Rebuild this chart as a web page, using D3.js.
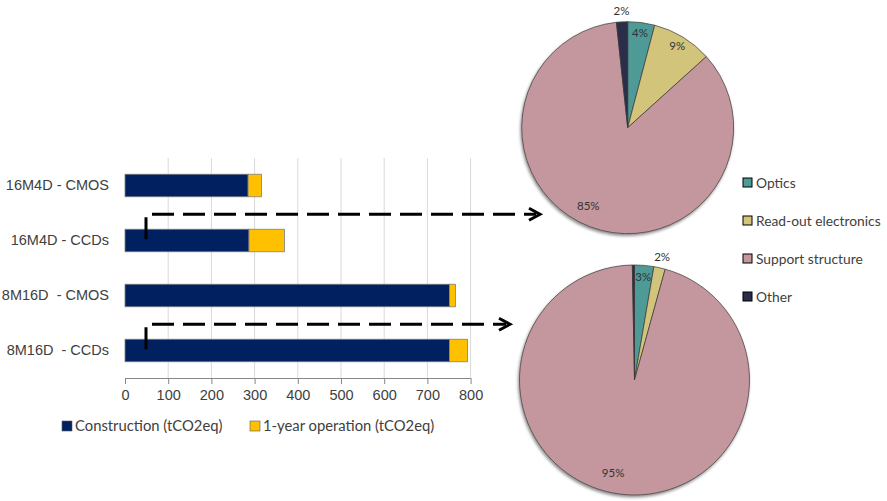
<!DOCTYPE html>
<html>
<head>
<meta charset="utf-8">
<script src="https://cdn.jsdelivr.net/npm/d3@7"></script>
<style>
  body { margin: 0; background: #fff; }
  svg { font-family: Lato, "Open Sans", sans-serif; }
</style>
</head>
<body>
<div id="chart"></div>
<script>
const categories = ["16M4D - CMOS", "16M4D - CCDs", "8M16D  - CMOS", "8M16D  - CCDs"];
const construction = [285, 287, 751, 751];
const operation = [31, 82, 14, 42];
const xTicks = [0, 100, 200, 300, 400, 500, 600, 700, 800];
const barSeries = ["Construction (tCO2eq)", "1-year operation (tCO2eq)"];

const components = ["Optics", "Read-out electronics", "Support structure", "Other"];
const pie16M4D = [4.1, 9.2, 85, 1.7];
const pie16M4DLabels = ["4%", "9%", "85%", "2%"];
const pie8M16D = [2.7, 1.6, 95.4, 0.3];
const pie8M16DLabels = ["3%", "2%", "95%", ""];

const width = 887;
const height = 501;

const barColors = ["#002060", "#ffc000"];
const pieColors = ["#4e9a96", "#d2c47a", "#c4969d", "#2b2d4a"];

const svg = d3.select("#chart")
  .append("svg")
  .attr("width", width)
  .attr("height", height);

const defs = svg.append("defs");
defs.append("filter")
  .attr("id", "shadow")
  .attr("x", "-10%").attr("y", "-10%")
  .attr("width", "120%").attr("height", "120%")
  .append("feDropShadow")
  .attr("dx", -1).attr("dy", 2)
  .attr("stdDeviation", 1.5)
  .attr("flood-color", "#000")
  .attr("flood-opacity", 0.45);

// ---- bar chart ----
const xScale = d3.scaleLinear()
  .domain([0, 800])
  .range([125, 470.6]);

const yScale = d3.scaleBand()
  .domain(categories)
  .range([158, 378])
  .paddingInner(0.59)
  .paddingOuter(0.295);

svg.append("g")
  .selectAll("line")
  .data(xTicks.slice(1))
  .enter()
  .append("line")
  .attr("x1", d => xScale(d))
  .attr("x2", d => xScale(d))
  .attr("y1", 158)
  .attr("y2", 378)
  .attr("stroke", "#d9d9d9")
  .attr("stroke-width", 1);

const rows = categories.map((c, i) => ({cat: c, a: construction[i], b: operation[i]}));

const barG = svg.append("g");
barG.selectAll("rect.cons")
  .data(rows)
  .enter()
  .append("rect")
  .attr("class", "cons")
  .attr("x", xScale(0))
  .attr("y", d => yScale(d.cat))
  .attr("width", d => xScale(d.a) - xScale(0))
  .attr("height", yScale.bandwidth())
  .attr("fill", barColors[0])
  .attr("stroke", "#808080")
  .attr("stroke-width", 0.8);

barG.selectAll("rect.op")
  .data(rows)
  .enter()
  .append("rect")
  .attr("class", "op")
  .attr("x", d => xScale(d.a))
  .attr("y", d => yScale(d.cat))
  .attr("width", d => xScale(d.a + d.b) - xScale(d.a))
  .attr("height", yScale.bandwidth())
  .attr("fill", barColors[1])
  .attr("stroke", "#808080")
  .attr("stroke-width", 0.8);

const xAxis = d3.axisBottom(xScale)
  .tickValues(xTicks)
  .tickSize(6)
  .tickPadding(6);
const xg = svg.append("g")
  .attr("transform", "translate(0, 378)")
  .call(xAxis);
xg.select(".domain").attr("stroke", "#868686").attr("d", `M${xScale(0)},0.5H${xScale(800)}`);
xg.selectAll(".tick line").attr("stroke", "#868686");
xg.selectAll(".tick text")
  .attr("fill", "#404040")
  .style("font-size", "14.5px");

const yAxis = d3.axisLeft(yScale).tickSize(0).tickPadding(16);
const yg = svg.append("g")
  .attr("transform", `translate(${xScale(0)}, 0)`)
  .call(yAxis);
yg.select(".domain").remove();
yg.selectAll(".tick text")
  .attr("fill", "#404040")
  .style("font-size", "14.5px")
  .style("white-space", "pre");

// bottom legend
const legendX = [62, 250];
const bl = svg.append("g");
barSeries.forEach((s, i) => {
  bl.append("rect")
    .attr("x", legendX[i]).attr("y", 421)
    .attr("width", 10).attr("height", 10)
    .attr("fill", barColors[i])
    .attr("stroke", "#595959").attr("stroke-width", 0.6);
  bl.append("text")
    .attr("x", legendX[i] + 13).attr("y", 431)
    .attr("fill", "#404040")
    .style("font-size", "14.8px")
    .text(s);
});

// ---- pies ----
function drawPie(values, labels, cx, cy, r) {
  const pie = d3.pie().sort(null).value(d => d);
  const arcs = pie(values);
  const arc = d3.arc().innerRadius(0).outerRadius(r);
  const g = svg.append("g").attr("transform", `translate(${cx}, ${cy})`);
  g.append("g")
    .attr("filter", "url(#shadow)")
    .selectAll("path")
    .data(arcs)
    .enter()
    .append("path")
    .attr("d", arc)
    .attr("fill", (d, i) => pieColors[i])
    .attr("stroke", "#3a3a3a")
    .attr("stroke-width", 0.7);
  g.selectAll("text")
    .data(arcs)
    .enter()
    .append("text")
    .attr("transform", d => {
      const mid = (d.startAngle + d.endAngle) / 2;
      let k = 0.9;
      if (d.value < 2.5) k = 1.1;
      if (d.value > 50) k = 0.83;
      const a = d.value > 50 ? mid + 0.1 : mid;
      return `translate(${Math.sin(a) * r * k}, ${-Math.cos(a) * r * k})`;
    })
    .attr("text-anchor", "middle")
    .attr("dy", "0.35em")
    .attr("fill", "#333")
    .style("font-size", "11.5px")
    .text((d, i) => labels[i]);
}

drawPie(pie16M4D, pie16M4DLabels, 627.7, 127.7, 106);
drawPie(pie8M16D, pie8M16DLabels, 634.5, 380, 115);

// right legend
const rl = svg.append("g");
const legendY = [183, 221, 259, 297];
components.forEach((c, i) => {
  rl.append("rect")
    .attr("x", 743).attr("y", legendY[i] - 5)
    .attr("width", 9).attr("height", 9)
    .attr("fill", pieColors[i])
    .attr("stroke", "#000").attr("stroke-width", 1);
  rl.append("text")
    .attr("x", 756).attr("y", legendY[i])
    .attr("dy", "0.35em")
    .attr("fill", "#404040")
    .style("font-size", "13.8px")
    .text(c);
});

// connectors from bars to pies
function connector(fromCat, toX) {
  const yTop = yScale(fromCat) - 15;
  const yBot = yScale(fromCat) + 10;
  const x0 = 146;
  svg.append("path")
    .attr("d", `M${x0},${yBot}V${yTop}H${toX - 4}`)
    .attr("fill", "none")
    .attr("stroke", "#000")
    .attr("stroke-width", 3)
    .attr("stroke-dasharray", "22,9");
  svg.append("path")
    .attr("d", `M${toX - 11},${yTop - 6}L${toX},${yTop}L${toX - 11},${yTop + 6}`)
    .attr("fill", "none")
    .attr("stroke", "#000")
    .attr("stroke-width", 3);
}
connector(categories[1], 540);
connector(categories[3], 510);
</script>
</body>
</html>
